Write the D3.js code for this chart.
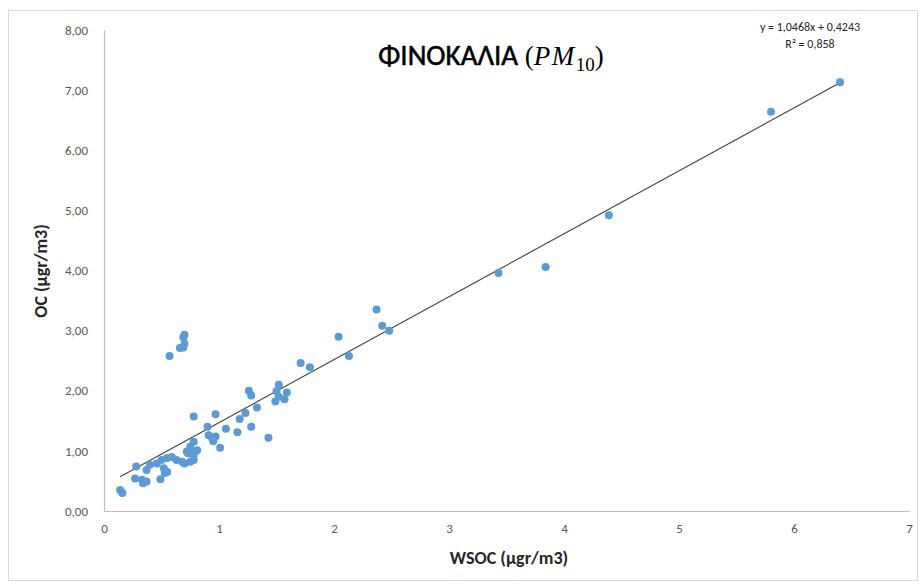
<!DOCTYPE html>
<html>
<head>
<meta charset="utf-8">
<script src="https://cdn.jsdelivr.net/npm/d3@7"></script>
<style>
  html, body { margin: 0; padding: 0; background: #fff; }
  svg { display: block; }
</style>
</head>
<body>
<svg id="chart" width="921" height="585"></svg>
<script>
// ---- data ----
const wsoc = [6.40, 5.80, 4.39, 3.84, 3.43, 2.37, 2.42, 2.48, 2.04, 2.13,
  1.71, 1.79, 1.52, 1.26, 1.28, 1.50, 1.59, 1.52, 1.57, 1.49,
  1.33, 1.23, 1.18, 1.28, 0.78, 0.97, 1.16, 1.06, 1.43, 0.90,
  0.91, 0.94, 0.97, 0.95, 1.01, 0.78, 0.75, 0.81, 0.72, 0.78,
  0.14, 0.16, 0.27, 0.33, 0.37, 0.34, 0.49, 0.28, 0.37, 0.40,
  0.46, 0.52, 0.55, 0.53, 0.50, 0.55, 0.59, 0.63, 0.68, 0.70,
  0.75, 0.78, 0.73, 0.76, 0.57, 0.66, 0.69, 0.70, 0.69, 0.70];
const oc = [7.13, 6.64, 4.92, 4.06, 3.96, 3.35, 3.08, 3.00, 2.90, 2.58,
  2.46, 2.39, 2.10, 2.00, 1.92, 1.99, 1.97, 1.90, 1.86, 1.82,
  1.72, 1.63, 1.53, 1.40, 1.57, 1.61, 1.31, 1.37, 1.22, 1.40,
  1.26, 1.21, 1.24, 1.16, 1.05, 1.15, 1.07, 1.01, 0.99, 0.93,
  0.35, 0.30, 0.54, 0.52, 0.49, 0.46, 0.53, 0.74, 0.68, 0.77,
  0.79, 0.71, 0.65, 0.63, 0.85, 0.88, 0.90, 0.85, 0.82, 0.79,
  0.82, 0.85, 0.96, 1.01, 2.58, 2.71, 2.72, 2.78, 2.89, 2.93];
const trendSlope = 1.0468;
const trendIntercept = 0.4243;
const xTicks = [0, 1, 2, 3, 4, 5, 6, 7];
const yTicks = [0, 1, 2, 3, 4, 5, 6, 7, 8];
const equationLines = ["y = 1,0468x + 0,4243", "R² = 0,858"];

// ---- layout ----
const svg = d3.select("#chart");
const font = "Carlito, Calibri, 'Liberation Sans Narrow', Lato, 'Open Sans', Arial, sans-serif";
const mathFont = "'Liberation Serif', 'DejaVu Serif', serif";
const x = d3.scaleLinear().domain([0, 7]).range([104, 909]);
const y = d3.scaleLinear().domain([0, 8]).range([511, 30]);

// frame
svg.append("rect")
  .attr("x", 8.5).attr("y", 10.5).attr("width", 909).attr("height", 570)
  .attr("fill", "#fff").attr("stroke", "#d9d9d9").attr("stroke-width", 1);

// axes
const fmt = d => d.toFixed(2).replace(".", ",");
const yAxis = svg.append("g").attr("transform", "translate(104,0)")
  .call(d3.axisLeft(y).tickValues(yTicks).tickSize(0).tickPadding(16).tickFormat(fmt));
const xAxis = svg.append("g").attr("transform", "translate(0,511)")
  .call(d3.axisBottom(x).tickValues(xTicks).tickSize(0).tickPadding(13).tickFormat(d3.format("d")));
[xAxis, yAxis].forEach(g => {
  g.select(".domain").attr("stroke", "#bfbfbf").attr("stroke-width", 1.2);
  g.selectAll("text").attr("font-family", font).attr("font-size", 13).attr("fill", "#595959");
});

// trend line
const ext = d3.extent(wsoc);
svg.append("line")
  .attr("x1", x(ext[0])).attr("y1", y(trendSlope * ext[0] + trendIntercept))
  .attr("x2", x(ext[1])).attr("y2", y(trendSlope * ext[1] + trendIntercept))
  .attr("stroke", "#404040").attr("stroke-width", 1.1);

// points
svg.append("g").selectAll("circle")
  .data(wsoc.map((v, i) => [v, oc[i]]))
  .join("circle")
  .attr("cx", d => x(d[0])).attr("cy", d => y(d[1]))
  .attr("r", 4).attr("fill", "#5b9bd5");

// title
const title = svg.append("text").attr("x", 491).attr("y", 65)
  .attr("text-anchor", "middle").attr("fill", "#000");
title.append("tspan").attr("font-family", font).attr("font-size", 29)
  .attr("stroke", "#000").attr("stroke-width", 0.5).text("ΦΙΝΟΚΑΛΙΑ ");
title.append("tspan").attr("font-family", mathFont).attr("font-size", 27).text("(");
title.append("tspan").attr("font-family", mathFont).attr("font-style", "italic").attr("font-size", 27)
  .attr("letter-spacing", 1.5).text("PM");
title.append("tspan").attr("font-family", mathFont).attr("font-size", 19).attr("dy", 6).text("10");
title.append("tspan").attr("font-family", mathFont).attr("font-size", 27).attr("dy", -6).text(")");

// equation
svg.append("g").selectAll("text").data(equationLines).join("text")
  .attr("x", 810).attr("y", (d, i) => 31 + i * 17)
  .attr("text-anchor", "middle").attr("font-family", font).attr("font-size", 12)
  .attr("fill", "#262626").text(d => d);

// axis titles
svg.append("text").attr("x", 509).attr("y", 564).attr("text-anchor", "middle")
  .attr("font-family", font).attr("font-size", 18).attr("font-weight", "bold")
  .attr("fill", "#262626").text("WSOC (µgr/m3)");
svg.append("text").attr("transform", "translate(47,271) rotate(-90)").attr("text-anchor", "middle")
  .attr("font-family", font).attr("font-size", 18).attr("font-weight", "bold")
  .attr("fill", "#262626").text("OC (μgr/m3)");
</script>
</body>
</html>
